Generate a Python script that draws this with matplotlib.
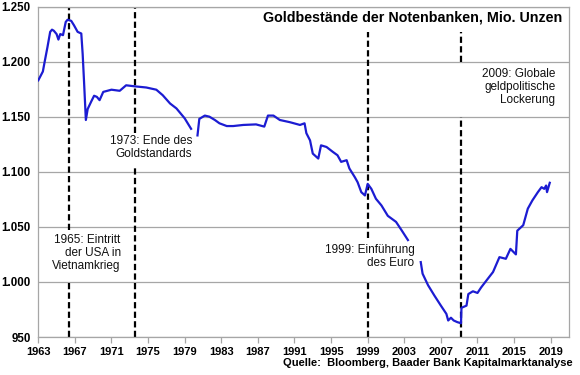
import matplotlib
matplotlib.use("Agg")
import matplotlib.pyplot as plt
import numpy as np
from matplotlib.ticker import FuncFormatter, MultipleLocator

plt.rcParams["font.family"] = ["Liberation Sans", "DejaVu Sans"]

# Goldbestände der Notenbanken in Mio. Unzen; NaN = Lücke
years = [
    1963.0, 1963.5, 1963.7, 1964.0, 1964.3, 1964.5, 1964.7, 1965.0, 1965.2,
    1965.4, 1965.7, 1966.0, 1966.2, 1966.6, 1966.9, 1967.3, 1967.7, 1967.85,
    1968.0, 1968.2, 1968.4, 1968.8, 1969.1, 1969.4, 1969.7, 1970.1, 1971.0,
    1971.9, 1972.6, 1973.6, 1974.8, 1975.9, 1976.6, 1977.4, 1978.1, 1979.0,
    1979.7, 1980.0, 1980.4, 1980.6, 1981.2, 1981.7, 1982.3, 1982.8, 1983.6,
    1984.3, 1985.4, 1986.8, 1987.7, 1988.1, 1988.7, 1989.4, 1990.5, 1991.6,
    1992.1, 1992.3, 1992.7, 1993.0, 1993.6, 1993.9, 1994.5, 1995.2, 1995.7,
    1996.1, 1996.7, 1997.0, 1997.6, 1997.9, 1998.3, 1998.7, 1999.0, 1999.4,
    1999.9, 2000.5, 2001.2, 2002.1, 2002.7, 2003.4, 2004.0, 2004.8, 2005.0,
    2005.6, 2006.3, 2007.0, 2007.6, 2007.8, 2008.1, 2008.4, 2008.8, 2009.2,
    2009.25, 2009.8, 2010.0, 2010.5, 2011.0, 2011.4, 2012.0, 2012.7, 2013.4,
    2014.1, 2014.6, 2015.2, 2015.35, 2016.0, 2016.5, 2017.0, 2017.6, 2018.0,
    2018.3, 2018.5, 2018.6, 2018.9,
]
gold = [
    1183, 1191, 1200, 1213, 1227, 1229, 1228, 1225, 1220,
    1225, 1224, 1236, 1238, 1237, 1233, 1227, 1225.5, 1207,
    1182, 1147, 1157, 1164, 1169, 1168, 1165, 1172.5, 1174.5,
    1173.5, 1178.5, 1177.5, 1176.5, 1174.5, 1169.5, 1162, 1157.5, 1148.5,
    1139, np.nan, 1133, 1148, 1151, 1150, 1147, 1144, 1141.5,
    1141.5, 1142.5, 1143, 1141, 1151, 1151, 1147, 1145, 1142.5,
    1144, 1135, 1128.5, 1116.5, 1112, 1124, 1122.5, 1118, 1115,
    1109, 1110.5, 1103, 1095, 1090.5, 1081.5, 1078.5, 1089, 1084.5,
    1075.5, 1069.5, 1060, 1054.5, 1047, 1038, np.nan, 1018, 1007.5,
    997, 987.5, 978.5, 971, 965, 967.5, 965, 963.5, 962.5,
    976.5, 978.5, 989, 991.5, 990, 995, 1001.5, 1009, 1022.5,
    1021, 1030, 1025, 1046.5, 1051.5, 1066.5, 1074, 1081.5, 1086,
    1084.5, 1087.5, 1081.5, 1090,
]

event_years = [1966.4, 1973.6, 1999.0, 2009.2]
event_labels = [
    "1965: Eintritt\nder USA in\nVietnamkrieg",
    "1973: Ende des\nGoldstandards",
    "1999: Einführung\ndes Euro",
    "2009: Globale\ngeldpolitische\nLockerung",
]

# sichtbare Teilstücke der gestrichelten Linien (unterbrochen durch Textfelder)
event_segments = [
    [(950, 1000), (1047, 1250)],
    [(950, 1104), (1135, 1250)],
    [(950, 1001), (1040, 1227)],
    [(950, 1150), (1200, 1227)],
]
label_pos = [(1972.0, 1026), (1979.8, 1122), (2004.1, 1023), (2019.5, 1177)]

fig = plt.figure(figsize=(5.8, 3.75), dpi=100)
ax = fig.add_axes([0.066, 0.1013, 0.915, 0.8813])

grid_col = "#a6a6a6"
ax.set_xlim(1963, 2021)
ax.set_ylim(950, 1250)
ax.yaxis.set_major_locator(MultipleLocator(50))
ax.grid(axis="y", color=grid_col, linewidth=0.9)
ax.set_axisbelow(True)
for side in ["left", "right", "bottom", "top"]:
    ax.spines[side].set_color(grid_col)
    ax.spines[side].set_linewidth(0.9)

ax.set_xticks(np.arange(1963, 2020, 4))
ax.tick_params(axis="x", direction="out", length=4.5, width=0.9,
               color=grid_col, pad=3, labelsize=8.0)
ax.tick_params(axis="y", length=0, pad=5.5, labelsize=8.3)
ax.yaxis.set_major_formatter(
    FuncFormatter(lambda v, _: f"{int(v):,}".replace(",", ".")))
for lab in ax.get_xticklabels() + ax.get_yticklabels():
    lab.set_fontweight("bold")

# Ereignislinien
for yr, segs in zip(event_years, event_segments):
    for lo, hi in segs:
        ax.plot([yr, yr], [lo, hi], color="black", linewidth=1.6,
                linestyle=(0, (2.8, 1.5)), zorder=2)

ax.plot(years, gold, color="#1c1cd2", linewidth=1.6, zorder=3)

for text, (tx, ty) in zip(event_labels, label_pos):
    ax.text(tx, ty, text, ha="right", va="center", multialignment="right",
            fontsize=8.5, linespacing=1.1, color="#111111", zorder=4)

fig.text(562 / 580, 1 - 18 / 375, "Goldbestände der Notenbanken, Mio. Unzen",
         ha="right", va="center", fontsize=10.3, fontweight="bold")
fig.text(573 / 580, 1 - 363 / 375,
         "Quelle:  Bloomberg, Baader Bank Kapitalmarktanalyse",
         ha="right", va="center", fontsize=8.0, fontweight="bold")

fig.savefig("out.png", dpi=100)
